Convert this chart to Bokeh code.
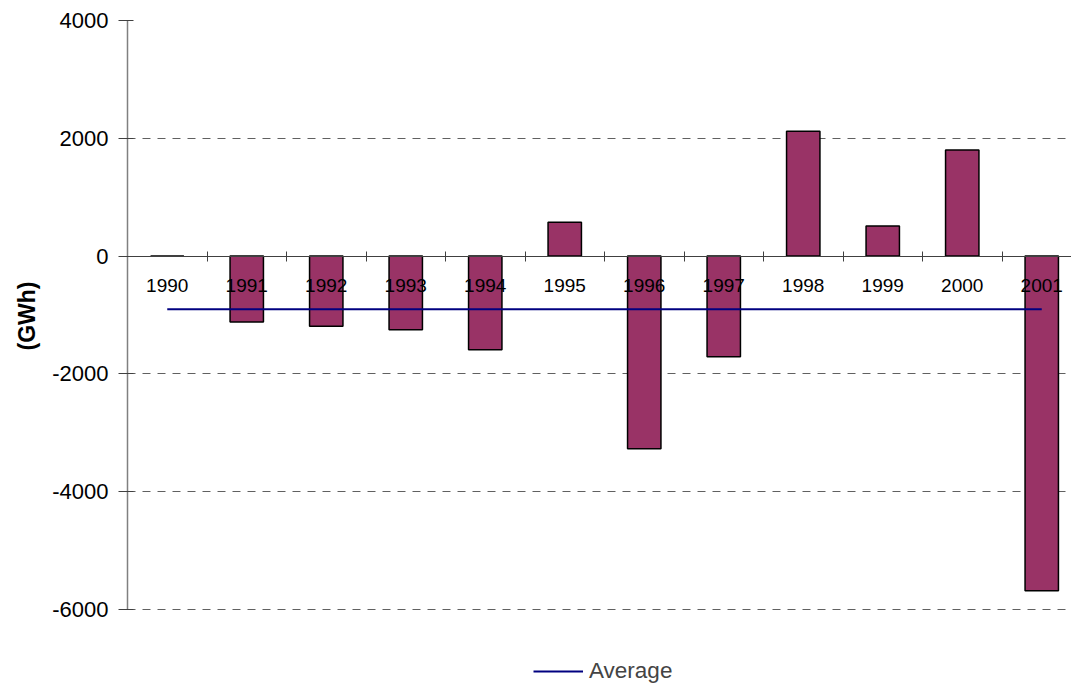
from bokeh.plotting import figure
from bokeh.models import (Range1d, LinearAxis, FixedTicker, Legend, LegendItem, Grid, Title)
from bokeh.embed import file_html
from bokeh.resources import INLINE
import numpy as np

years = ["1990", "1991", "1992", "1993", "1994", "1995", "1996", "1997",
         "1998", "1999", "2000", "2001"]
values = [0, -1120, -1190, -1250, -1590, 575, -3270, -1710, 2120, 510, 1800, -5680]
y_ticks = [-6000, -4000, -2000, 0, 2000, 4000]
y_tick_labels = ["-6000", "-4000", "-2000", "0", "2000", "4000"]

centers = [i + 0.5 for i in range(len(years))]
avg = float(np.mean(values))

FONT = "Liberation Sans"

# frame spans y 20..684 px; axis spine limited to -6000..4000 (589 px)
px_per_unit = 589 / 10000.0
y_bottom = -6000 - 75 / px_per_unit

p = figure(width=1071, height=684, output_backend="svg", toolbar_location=None,
           x_range=Range1d(0, 944 / 79.5), y_range=Range1d(y_bottom, 4000),
           x_axis_location=None, y_axis_location=None,
           min_border_left=127, min_border_right=0, min_border_top=20,
           min_border_bottom=0)
p.outline_line_color = None
p.background_fill_color = "white"
p.border_fill_color = "white"
p.xgrid.grid_line_color = None
p.ygrid.grid_line_color = None

g = Grid(dimension=1, ticker=FixedTicker(ticks=y_ticks), grid_line_color="#606060",
         grid_line_dash="8 7", grid_line_width=1, level="underlay")
p.add_layout(g)

bars = p.vbar(x=centers, top=values, bottom=0, width=0.42,
              fill_color="#993366", line_color="black", line_width=1.5)
avg_r = p.line(x=[centers[0], centers[-1]], y=[avg, avg],
               line_color="#000080", line_width=2)

# y axis
yaxis = LinearAxis(ticker=FixedTicker(ticks=y_ticks, minor_ticks=[]), bounds=(-6000, 4000))
yaxis.major_label_overrides = {t: s for t, s in zip(y_ticks, y_tick_labels)}
yaxis.major_label_text_font = FONT
yaxis.major_label_text_font_size = "22px"
yaxis.major_label_text_color = "black"
yaxis.major_label_standoff = 10
yaxis.major_tick_in = 6
yaxis.major_tick_out = 9
yaxis.major_tick_line_color = "#404040"
yaxis.minor_tick_line_color = None
yaxis.axis_line_color = "#808080"
yaxis.axis_line_width = 1.5
p.add_layout(yaxis, "left")

title = Title(text="(GWh)", align="left", offset=334, standoff=20,
              text_font=FONT, text_font_style="bold", text_font_size="23px",
              text_color="black")
p.add_layout(title, "left")

# x axis at y=0
xaxis = LinearAxis(ticker=FixedTicker(ticks=centers, minor_ticks=list(range(1, len(years)))),
                   fixed_location=0)
xaxis.major_label_overrides = {c: y for c, y in zip(centers, years)}
xaxis.major_label_text_font = FONT
xaxis.major_label_text_font_size = "19px"
xaxis.major_label_text_color = "black"
xaxis.major_label_standoff = 18
xaxis.major_tick_in = 0
xaxis.major_tick_out = 0
xaxis.minor_tick_in = 5
xaxis.minor_tick_out = 5
xaxis.minor_tick_line_color = "#404040"
xaxis.axis_line_color = "#404040"
xaxis.axis_line_width = 1.2
p.add_layout(xaxis, "below")

legend = Legend(items=[LegendItem(label="Average", renderers=[avg_r])],
                orientation="horizontal", location=(406, 0),
                label_text_font=FONT, label_text_font_size="22.5px",
                glyph_width=50, label_standoff=6,
                border_line_color=None, background_fill_alpha=0,
                margin=0, padding=0)
p.add_layout(legend)

open("out.html", "w").write(file_html(p, INLINE))
